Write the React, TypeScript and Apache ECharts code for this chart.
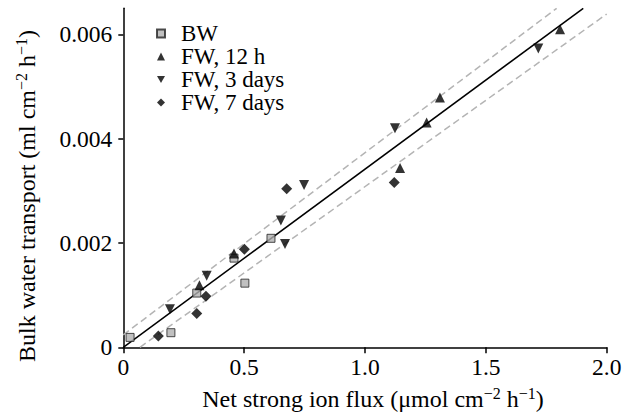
import React, { useEffect, useRef } from "react";
import * as echarts from "echarts";

const bwPoints: [number, number][] = [
  [0.028, 0.00019], [0.197, 0.00028], [0.304, 0.00104],
  [0.458, 0.00171], [0.503, 0.00123], [0.611, 0.00209],
];
const fw12hPoints: [number, number][] = [
  [0.315, 0.00119], [0.458, 0.0018], [1.145, 0.00344],
  [1.255, 0.00431], [1.31, 0.00479], [1.807, 0.0061],
];
const fw3dPoints: [number, number][] = [
  [0.193, 0.00073], [0.345, 0.00137], [0.652, 0.00243], [0.669, 0.00198],
  [0.748, 0.00311], [1.124, 0.0042], [1.717, 0.00573],
];
const fw7dPoints: [number, number][] = [
  [0.145, 0.000217], [0.304, 0.00065], [0.342, 0.00098],
  [0.501, 0.00188], [0.676, 0.00304], [1.121, 0.00316],
];
const fitLine: [number, number][] = [[0, 0], [1.903, 0.0065]];
const upperBand: [number, number][] = [[0, 0.00024], [1.793, 0.0065]];
const lowerBand: [number, number][] = [[0.069, 0], [2.0, 0.00639]];

const xTickValues = [0, 0.5, 1.0, 1.5, 2.0];
const xTickLabels = ["0", "0.5", "1.0", "1.5", "2.0"];
const yTickValues = [0, 0.002, 0.004, 0.006];
const yTickLabels = ["0", "0.002", "0.004", "0.006"];

const seriesNames = ["BW", "FW, 12 h", "FW, 3 days", "FW, 7 days"];

const FONT = "'Liberation Serif', 'Times New Roman', Times, serif";
const downTri = "path://M0,0 L10,0 L5,9 Z";

function findLabel(v: number, vals: number[], labels: string[]) {
  for (let i = 0; i < vals.length; i++) {
    if (Math.abs(vals[i] - v) < 1e-9) return labels[i];
  }
  return "";
}

export default function App() {
  const ref = useRef<HTMLDivElement>(null);
  useEffect(() => {
    if (!ref.current) return;
    const chart = echarts.init(ref.current, undefined, { renderer: "svg" });
    const axisLine = { show: true, lineStyle: { color: "#000", width: 1.5 } };
    const labelStyle = { color: "#000", fontSize: 23.5, fontFamily: FONT };
    const titleRich = {
      a: { fontSize: 24, fontFamily: FONT, fill: "#000", lineHeight: 28 },
      s: { fontSize: 16, fontFamily: FONT, fill: "#000", lineHeight: 28, verticalAlign: "top" },
    };
    chart.setOption({
      animation: false,
      backgroundColor: "#fff",
      grid: { left: 123.3, right: 27.3, top: 8.3, bottom: 66.7 },
      xAxis: {
        type: "value",
        min: 0,
        max: 2,
        interval: 0.5,
        axisLine,
        axisTick: { show: true, length: 6, inside: false, lineStyle: { color: "#000", width: 1.5 } },
        axisLabel: {
          ...labelStyle,
          margin: 8,
          formatter: (v: number) => findLabel(v, xTickValues, xTickLabels),
        },
        splitLine: { show: false },
      },
      yAxis: {
        type: "value",
        min: 0,
        max: 0.0065,
        interval: 0.002,
        axisLine,
        axisTick: {
          show: true,
          length: 5,
          customValues: yTickValues,
          lineStyle: { color: "#000", width: 1.5 },
        },
        axisLabel: {
          ...labelStyle,
          margin: 11,
          customValues: yTickValues,
          formatter: (v: number) => findLabel(v, yTickValues, yTickLabels),
        },
        splitLine: { show: false },
      },
      legend: {
        orient: "vertical",
        left: 156,
        top: 22,
        padding: 0,
        itemGap: 0,
        itemWidth: 8,
        itemHeight: 8,
        data: seriesNames,
        textStyle: {
          color: "#000",
          fontSize: 23,
          fontFamily: FONT,
          lineHeight: 21.7,
          padding: [0, 0, 0, 11],
        },
      },
      graphic: [
        {
          type: "text",
          x: 373,
          y: 399,
          style: {
            text: "{a|Net strong ion flux (μmol cm}{s|−2}{a| h}{s|−1}{a|)}",
            align: "center",
            verticalAlign: "middle",
            rich: titleRich,
          },
        },
        {
          type: "text",
          x: 27,
          y: 196,
          rotation: Math.PI / 2,
          style: {
            text: "{a|Bulk water transport (ml cm}{s|−2}{a| h}{s|−1}{a|)}",
            align: "center",
            verticalAlign: "middle",
            rich: titleRich,
          },
        },
      ],
      series: [
        {
          type: "line",
          data: upperBand,
          showSymbol: false,
          silent: true,
          z: 1,
          lineStyle: { color: "#b4b4b4", width: 1.5, type: [7, 4] },
        },
        {
          type: "line",
          data: lowerBand,
          showSymbol: false,
          silent: true,
          z: 1,
          lineStyle: { color: "#b4b4b4", width: 1.5, type: [7, 4] },
        },
        {
          type: "line",
          data: fitLine,
          showSymbol: false,
          silent: true,
          z: 2,
          lineStyle: { color: "#000", width: 1.5 },
        },
        {
          name: seriesNames[0],
          type: "scatter",
          data: bwPoints,
          symbol: "rect",
          symbolSize: 8,
          z: 3,
          itemStyle: { color: "#b0b0b0", borderColor: "#222", borderWidth: 1 },
        },
        {
          name: seriesNames[1],
          type: "scatter",
          data: fw12hPoints,
          symbol: "triangle",
          symbolSize: 10,
          z: 3,
          itemStyle: { color: "#000" },
        },
        {
          name: seriesNames[2],
          type: "scatter",
          data: fw3dPoints,
          symbol: downTri,
          symbolSize: 10,
          z: 3,
          itemStyle: { color: "#000" },
        },
        {
          name: seriesNames[3],
          type: "scatter",
          data: fw7dPoints,
          symbol: "diamond",
          symbolSize: 11,
          z: 3,
          itemStyle: { color: "#000" },
        },
      ],
    });
    return () => chart.dispose();
  }, []);
  return (
    <div
      ref={ref}
      style={{ position: "fixed", left: 0, top: 0, width: 634, height: 414, background: "#fff" }}
    />
  );
}
